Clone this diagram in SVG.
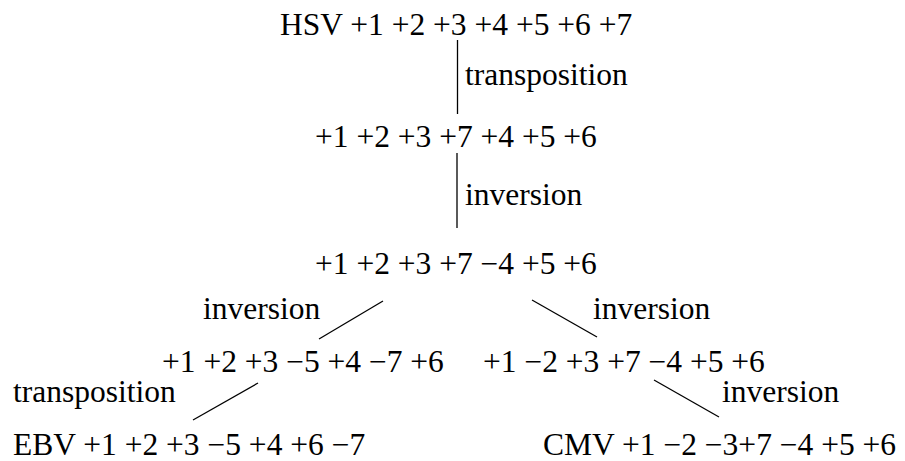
<svg xmlns="http://www.w3.org/2000/svg" width="905" height="461" viewBox="0 0 905 461">
<style>
text{font-family:"Liberation Serif","Times New Roman",serif;font-size:31.5px;fill:#000}
.c line{stroke:#000;stroke-width:1.3}
</style>
<rect width="905" height="461" fill="#fff"/>
<g id="hsv"><text x="280" y="35">HSV +1 +2 +3 +4 +5 +6 +7</text></g>
<g id="n2"><text x="315" y="147">+1 +2 +3 +7 +4 +5 +6</text></g>
<g id="n3"><text x="315" y="274">+1 +2 +3 +7 −4 +5 +6</text></g>
<g id="n4l"><text x="162" y="372">+1 +2 +3 −5 +4 −7 +6</text></g>
<g id="n4r"><text x="483" y="372">+1 −2 +3 +7 −4 +5 +6</text></g>
<g id="ebv"><text x="13" y="455">EBV +1 +2 +3 −5 +4 +6 −7</text></g>
<g id="cmv"><text x="543" y="455">CMV +1 −2 −3+7 −4 +5 +6</text></g>
<g id="labels">
<text x="465" y="85">transposition</text>
<text x="465" y="205">inversion</text>
<text x="203" y="319">inversion</text>
<text x="593" y="319">inversion</text>
<text x="13" y="402">transposition</text>
<text x="722" y="402">inversion</text>
</g>
<g class="c" id="connectors">
<line x1="457.5" y1="40" x2="457.5" y2="114"/>
<line x1="457" y1="153" x2="457" y2="228"/>
<line x1="383" y1="301" x2="319" y2="339"/>
<line x1="532" y1="300" x2="597" y2="337"/>
<line x1="258" y1="383" x2="193" y2="420"/>
<line x1="654" y1="380" x2="719" y2="417"/>
</g>
</svg>
